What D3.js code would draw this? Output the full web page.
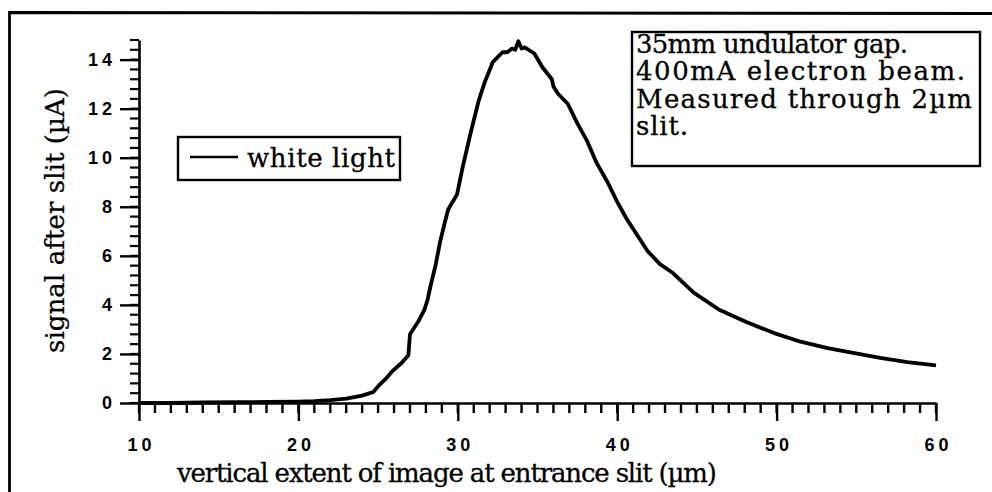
<!DOCTYPE html>
<html>
<head>
<meta charset="utf-8">
<script src="https://cdn.jsdelivr.net/npm/d3@7"></script>
<style>
    body { margin: 0; background: #fff; }
    svg { display: block; }
</style>
</head>
<body>
<svg id="chart" width="992" height="492"></svg>
<script>
// Scan of "white light" beam profile measured through a 2 µm slit

// x positions (µm) and signal (µA)
const extentUm = [10, 12, 14, 16, 18, 20, 21, 22, 23, 24, 24.7, 25.1, 25.5, 25.9, 26.5, 26.9, 27.0, 27.5,
    27.9, 28.1, 28.3, 28.6, 28.9, 29.2, 29.4, 29.95, 30.3, 30.8, 31.3, 31.7, 32.2, 32.5, 32.8, 33.1, 33.4,
    33.6, 33.8, 34.0, 34.2, 34.8, 35.3, 35.9, 36.0, 36.3, 36.9, 37.5, 38.1, 38.7, 39.4, 40.0, 40.6, 41.2,
    41.9, 42.7, 43.5, 44.8, 46.4, 48.1, 49.8, 51.5, 53.2, 54.8, 56.5, 58.2, 60];
const signalUA = [0.0, 0.0, 0.02, 0.03, 0.04, 0.06, 0.08, 0.12, 0.18, 0.3, 0.45, 0.75, 1.0, 1.3, 1.65, 1.95, 2.8, 3.3,
    3.8, 4.2, 4.8, 5.6, 6.6, 7.4, 7.9, 8.5, 9.6, 11.0, 12.3, 13.1, 13.9, 14.1, 14.3, 14.3, 14.45,
    14.4, 14.75, 14.45, 14.5, 14.25, 13.7, 13.2, 12.9, 12.6, 12.2, 11.4, 10.7, 9.8, 9.0, 8.2, 7.5, 6.9,
    6.2, 5.65, 5.3, 4.5, 3.8, 3.3, 2.86, 2.5, 2.24, 2.04, 1.84, 1.67, 1.53];

const xMajorTicks = [10, 20, 30, 40, 50, 60];
const yMajorTicks = [0, 2, 4, 6, 8, 10, 12, 14];
const xMinorStep = 1;
const yMinorStep = 0.4;
const xDomain = [10, 60];
const yDomain = [0, 14.8];

const xTitle = "vertical extent of image at entrance slit (µm)";
const yTitle = "signal after slit (µA)";
const legendLabel = "white light";
const noteLines = ["35mm undulator gap.", "400mA electron beam.", "Measured through 2µm", "slit."];

const SERIF = '"DejaVu Serif", serif';
const SANS = '"Liberation Sans", Arial, sans-serif';

const svg = d3.select("#chart");
const plot = { left: 139, right: 936, top: 40, bottom: 403 };

const x = d3.scaleLinear().domain(xDomain).range([plot.left, plot.right]);
const y = d3.scaleLinear().domain(yDomain).range([plot.bottom, plot.top]);

// page frame (top and left edges of the scanned figure)
svg.append("path")
    .attr("d", "M9.5,492 L9.5,12.5 L992,13.5")
    .attr("fill", "none")
    .attr("stroke", "#000")
    .attr("stroke-width", 2.8);

// minor ticks, drawn from the scales
const xMinor = d3.range(xDomain[0], xDomain[1] + 0.001, xMinorStep);
svg.append("g").selectAll("line")
    .data(xMinor)
    .join("line")
    .attr("x1", d => x(d)).attr("x2", d => x(d))
    .attr("y1", plot.bottom).attr("y2", plot.bottom + 10)
    .attr("stroke", "#000").attr("stroke-width", 2.4);

const yMinor = d3.range(yDomain[0], yDomain[1] + 0.001, yMinorStep);
svg.append("g").selectAll("line")
    .data(yMinor)
    .join("line")
    .attr("x1", plot.left - 9).attr("x2", plot.left)
    .attr("y1", d => y(d)).attr("y2", d => y(d))
    .attr("stroke", "#000").attr("stroke-width", 2.2);

// major ticks + labels
function styleAxis(g) {
    g.select(".domain").attr("stroke", "#000").attr("stroke-width", 2.6);
    g.selectAll(".tick line").attr("stroke", "#000").attr("stroke-width", 2.4);
    g.selectAll(".tick text")
        .attr("fill", "#000")
        .attr("font-family", SANS)
        .attr("font-size", 18)
        .attr("font-weight", "bold")
        .attr("letter-spacing", 4);
}

svg.append("g")
    .attr("transform", `translate(0,${plot.bottom})`)
    .call(d3.axisBottom(x).tickValues(xMajorTicks).tickSize(18).tickSizeOuter(0).tickPadding(17))
    .call(styleAxis)
    .call(g => g.selectAll(".tick text").attr("dx", 2));

svg.append("g")
    .attr("transform", `translate(${plot.left},0)`)
    .call(d3.axisLeft(y).tickValues(yMajorTicks).tickSize(19).tickSizeOuter(0).tickPadding(4))
    .call(styleAxis);

// the trace
const points = extentUm.map((v, i) => [v, signalUA[i]]);
svg.append("path")
    .datum(points)
    .attr("fill", "none")
    .attr("stroke", "#000")
    .attr("stroke-width", 3.8)
    .attr("stroke-linejoin", "round")
    .attr("d", d3.line().x(d => x(d[0])).y(d => y(d[1])));

// serif text helper
function serifText(sel) {
    return sel.attr("font-family", SERIF)
        .attr("font-size", 26)
        .attr("fill", "#000")
        .attr("stroke", "#000")
        .attr("stroke-width", 0.3);
}

// axis titles
svg.append("text")
    .call(serifText)
    .attr("x", 177).attr("y", 482)
    .attr("textLength", 540)
    .text(xTitle);

svg.append("text")
    .call(serifText)
    .attr("transform", "translate(64,353) rotate(-90)")
    .attr("textLength", 265)
    .text(yTitle);

// legend
const legend = svg.append("g");
legend.append("rect")
    .attr("x", 178).attr("y", 137).attr("width", 222).attr("height", 43)
    .attr("fill", "#fff").attr("stroke", "#000").attr("stroke-width", 2.4);
legend.append("line")
    .attr("x1", 190).attr("x2", 238).attr("y1", 157).attr("y2", 157)
    .attr("stroke", "#000").attr("stroke-width", 2.6);
legend.append("text")
    .call(serifText)
    .attr("x", 247).attr("y", 167)
    .attr("textLength", 148)
    .text(legendLabel);

// note box
const note = svg.append("g");
note.append("rect")
    .attr("x", 632).attr("y", 32).attr("width", 348).attr("height", 134)
    .attr("fill", "#fff").attr("stroke", "#000").attr("stroke-width", 2.4);
const noteWidths = [272, 329, 336, 52];
note.selectAll("text")
    .data(noteLines)
    .join("text")
    .call(serifText)
    .attr("x", 636)
    .attr("y", (d, i) => 53 + i * 27.3)
    .attr("textLength", (d, i) => noteWidths[i])
    .text(d => d);
</script>
</body>
</html>
